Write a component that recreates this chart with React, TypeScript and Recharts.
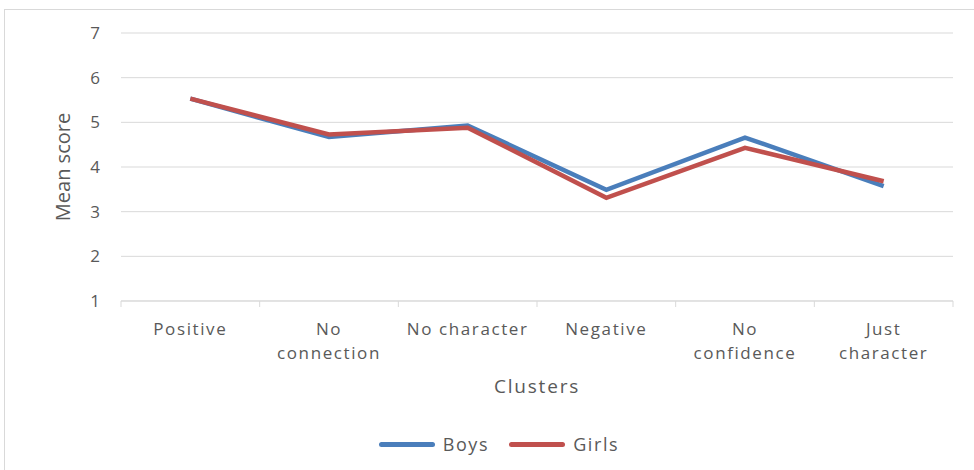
import { LineChart, Line, XAxis, YAxis, CartesianGrid } from 'recharts';

const clusters = ['Positive', 'No connection', 'No character', 'Negative', 'No confidence', 'Just character'];
const tickLines = [['Positive'], ['No', 'connection'], ['No character'], ['Negative'], ['No', 'confidence'], ['Just', 'character']];
const boys = [5.53, 4.67, 4.93, 3.49, 4.66, 3.57];
const girls = [5.53, 4.73, 4.88, 3.31, 4.43, 3.68];
const yTicks = [1, 2, 3, 4, 5, 6, 7];

const data = clusters.map((c, i) => ({ cluster: c, Boys: boys[i], Girls: girls[i] }));

const W = 974;
const H = 470;
const XH = 100;
const M = { top: 33, right: 21, left: 61, bottom: 169 - XH };
const YW = 60;
const band = (W - M.left - YW - M.right) / clusters.length;
const font = '"Open Sans", sans-serif';
const txt = '#595959';
const grid = '#d9d9d9';
const ls = 1.6;

const ClusterTick = ({ x, y, index }) => {
  const lines = tickLines[index] || [];
  const left = x - band / 2;
  return (
    <g>
      <line x1={left} y1={y - 8} x2={left} y2={y - 2} stroke={grid} />
      {index === clusters.length - 1 && (
        <line x1={x + band / 2} y1={y - 8} x2={x + band / 2} y2={y - 2} stroke={grid} />
      )}
      {lines.map((l, i) => (
        <text key={i} x={x} y={y + 26 + i * 24} textAnchor="middle" fill={txt} fontSize={17} fontFamily={font} letterSpacing={ls}>
          {l}
        </text>
      ))}
    </g>
  );
};

const series = [['Boys', '#4a7ebb'], ['Girls', '#c0504d']];

export default function App() {
  return (
    <div style={{ position: 'absolute', left: 0, top: 0, width: W, height: H, overflow: 'hidden', background: '#fff' }}>
      <div style={{ position: 'absolute', left: 4, top: 9, width: W, height: H, border: `1px solid ${grid}` }} />
      <div style={{ position: 'absolute', left: 0, top: 0 }}>
        <LineChart width={W} height={H} data={data} margin={M}>
          <CartesianGrid vertical={false} stroke={grid} />
          <XAxis
            dataKey="cluster"
            scale="band"
            height={XH}
            stroke={grid}
            tickLine={false}
            tick={<ClusterTick />}
            interval={0}
            label={{ value: 'Clusters', position: 'insideBottom', offset: 8, fill: txt, fontSize: 19, fontFamily: font, letterSpacing: 1.8 }}
          />
          <YAxis
            domain={[1, 7]}
            ticks={yTicks}
            width={YW}
            axisLine={false}
            tickLine={false}
            tickMargin={15}
            tick={{ fill: txt, fontSize: 17, fontFamily: font }}
            label={{ value: 'Mean score', angle: -90, position: 'insideLeft', offset: 2, fill: txt, fontSize: 20, fontFamily: font, style: { textAnchor: 'middle' } }}
          />
          <Line dataKey="Boys" stroke="#4a7ebb" strokeWidth={4.5} dot={false} isAnimationActive={false} />
          <Line dataKey="Girls" stroke="#c0504d" strokeWidth={4.5} dot={false} isAnimationActive={false} />
        </LineChart>
      </div>
      <div style={{ position: 'absolute', left: 0, top: 432, width: W, display: 'flex', justifyContent: 'center', gap: 20, fontFamily: font, fontSize: 18, letterSpacing: ls, color: txt, paddingLeft: 12 }}>
        {series.map(([n, c]) => (
          <div key={n} style={{ display: 'flex', alignItems: 'center' }}>
            <span style={{ display: 'inline-block', width: 56, height: 5, borderRadius: 3, background: c, marginRight: 8 }} />
            {n}
          </div>
        ))}
      </div>
    </div>
  );
}
